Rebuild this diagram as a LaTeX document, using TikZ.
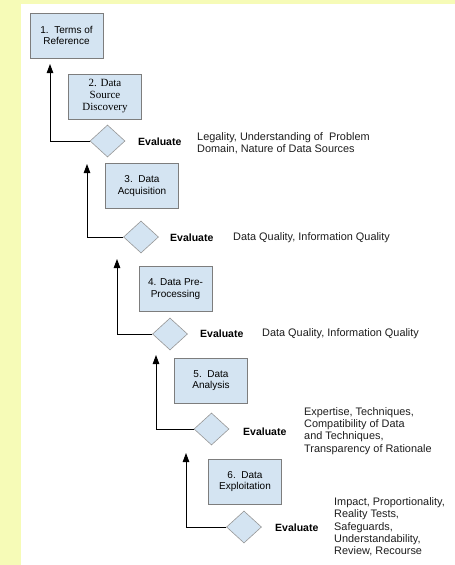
\documentclass[tikz,border=0pt]{standalone}
\usepackage{fontspec}
\setmainfont{Liberation Sans}
\newfontfamily\boxserif{Liberation Serif}
\usetikzlibrary{arrows.meta,shapes.geometric}
\definecolor{pagebg}{RGB}{246,251,183}
\definecolor{stepfill}{RGB}{212,228,242}
\definecolor{stepline}{RGB}{125,125,125}
\definecolor{labeltext}{RGB}{30,30,30}
\begin{document}
\begin{tikzpicture}[x=1pt,y=-1pt,
  stepbox/.style={draw=stepline,fill=stepfill,line width=0.8pt,minimum width=73pt,
    minimum height=45pt,inner sep=0pt,align=center,font=\fontsize{10}{11.7}\selectfont},
  gate/.style={diamond,aspect=1.09,draw=stepline!80,fill=stepfill,line width=0.6pt,
    minimum width=35pt,minimum height=32pt,inner sep=0pt},
  evalword/.style={anchor=west,inner sep=0pt,font=\bfseries\fontsize{10.5}{12}\selectfont},
  criteria/.style={anchor=west,inner sep=0pt,align=left,text=labeltext,
    font=\fontsize{10.9}{12.3}\selectfont},
  feedback/.style={draw=black,line width=0.9pt,-{Triangle[length=9pt,width=6.5pt]}}
]
% page background and white panel
\useasboundingbox (0,0) rectangle (455,565);
\fill[pagebg] (0,0) rectangle (455,565);
\fill[white] (21,4) rectangle (455,565);

% process steps
\node[stepbox] (s1) at (66.5,35.5) {1.\ \ Terms of\\Reference};
\node[stepbox,font=\boxserif\fontsize{11}{12}\selectfont] (s2) at (105,96.5) {2. Data\\Source\\Discovery};
\node[stepbox] (s3) at (142,186) {3.\ \ Data\\Acquisition};
\node[stepbox] (s4) at (175.5,289) {4. Data Pre-\\Processing};
\node[stepbox] (s5) at (211,380.5) {5.\ \ Data\\Analysis};
\node[stepbox] (s6) at (245,481.5) {6.\ \ Data\\Exploitation};

% evaluation gates
\node[gate] (g1) at (107.5,141) {};
\node[gate] (g2) at (141,237) {};
\node[gate] (g3) at (170,334) {};
\node[gate] (g4) at (211.5,429) {};
\node[gate] (g5) at (244,527) {};

% evaluation labels
\node[evalword] (e1) at (138,141.5) {Evaluate};
\node[evalword] (e2) at (170,238) {Evaluate};
\node[evalword] (e3) at (200,333.5) {Evaluate};
\node[evalword] (e4) at (243,432) {Evaluate};
\node[evalword] (e5) at (275,528) {Evaluate};

% evaluation criteria
\node[criteria] (c1) at (197,143.5) {Legality, Understanding of\ \ Problem\\Domain, Nature of Data Sources};
\node[criteria] (c2) at (233,238) {Data Quality, Information Quality};
\node[criteria] (c3) at (262,333.5) {Data Quality, Information Quality};
\node[criteria] (c4) at (304,431) {Expertise, Techniques,\\Compatibility of Data\\and Techniques,\\Transparency of Rationale};
\node[criteria] (c5) at (334,527) {Impact, Proportionality,\\Reality Tests,\\Safeguards,\\Understandability,\\Review, Recourse};

% feedback arrows
\coordinate (t1) at (50,64);
\coordinate (t2) at (87,164);
\coordinate (t3) at (117,259);
\coordinate (t4) at (156,355);
\coordinate (t5) at (186,453);
\draw[feedback] (g1.west) -| (t1);
\draw[feedback] (g2.west) -| (t2);
\draw[feedback] (g3.west) -| (t3);
\draw[feedback] (g4.west) -| (t4);
\draw[feedback] (g5.west) -| (t5);
\end{tikzpicture}
\end{document}
